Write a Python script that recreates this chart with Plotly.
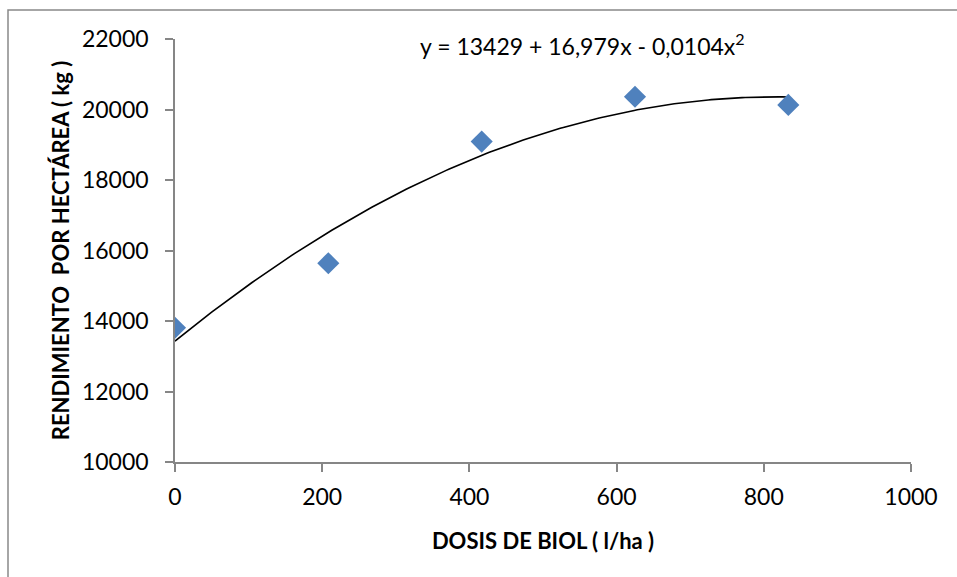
import numpy as np
import plotly.graph_objects as go

# Data
dosis = [0, 208.3, 416.7, 625, 833.3]
rendimiento = [13810, 15640, 19090, 20360, 20130]

# Trendline coefficients as printed on the chart
coef_a = 13429
coef_b = 16.979
coef_c = -0.0104
eq_text = "y = 13429 + 16,979x - 0,0104x<sup>2</sup>"

x_tick_vals = [0, 200, 400, 600, 800, 1000]
y_tick_vals = [10000, 12000, 14000, 16000, 18000, 20000, 22000]

xt = np.linspace(0, max(dosis), 200)
yt = coef_a + coef_b * xt + coef_c * xt ** 2

FONT = "Lato"
AX = "#868686"

fig = go.Figure()
fig.add_trace(go.Scatter(
    x=xt, y=yt, mode="lines",
    line=dict(color="black", width=1.6),
    showlegend=False, hoverinfo="skip"))
fig.add_trace(go.Scatter(
    x=dosis, y=rendimiento, mode="markers",
    marker=dict(symbol="diamond", size=17, color="#4F81BD",
                line=dict(width=0)),
    showlegend=False))

fig.update_layout(
    width=957, height=577,
    margin=dict(l=175, r=46, t=39, b=115),
    paper_bgcolor="white", plot_bgcolor="white",
    font=dict(family=FONT, size=23, color="black"),
    xaxis=dict(range=[0, 1000], tickvals=x_tick_vals, tickformat="d",
               showgrid=False, zeroline=False,
               showline=True, linecolor=AX, linewidth=1.5,
               ticks="outside", ticklen=8, tickcolor=AX, tickwidth=1.5,
               ticklabelstandoff=6,
               tickfont=dict(family=FONT, size=23),
               title=dict(text="<b>DOSIS DE BIOL ( l/ha )</b>",
                          font=dict(family=FONT, size=22), standoff=24)),
    yaxis=dict(range=[10000, 22000], tickvals=y_tick_vals, tickformat="d",
               showgrid=False, zeroline=False,
               showline=True, linecolor=AX, linewidth=1.5,
               ticks="outside", ticklen=8, tickcolor=AX, tickwidth=1.5,
               ticklabelstandoff=12,
               tickfont=dict(family=FONT, size=23),
               title=dict(text="<b>RENDIMIENTO  POR HECTÁREA ( kg )</b>",
                          font=dict(family=FONT, size=22), standoff=6)),
    annotations=[dict(x=0.553, y=(462 - 44) / 423, xref="paper", yref="paper",
                      text=eq_text, showarrow=False,
                      xanchor="center", yanchor="middle",
                      font=dict(family=FONT, size=23))],
    shapes=[dict(type="rect", xref="paper", yref="paper",
                 x0=-0.2269, x1=1.07, y0=-0.3, y1=1.0686,
                 line=dict(color="#898989", width=1.5))],
)

fig.write_html("out.html")
